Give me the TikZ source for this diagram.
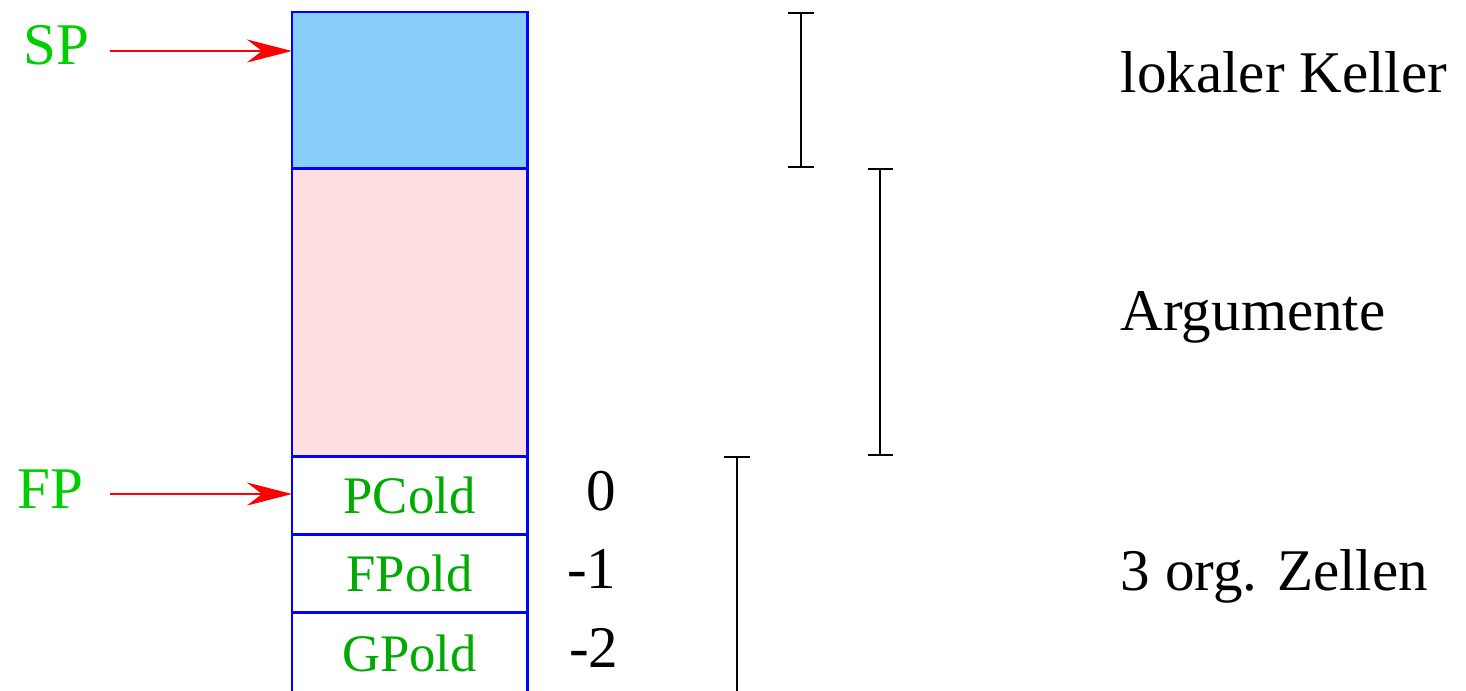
\documentclass[tikz,border=0pt]{standalone}
\usepackage{fontspec}
\setmainfont{Liberation Serif}
\usetikzlibrary{arrows.meta,positioning}
\definecolor{regreen}{RGB}{0,205,0}
\definecolor{cellgreen}{RGB}{0,170,0}
\definecolor{kellerblue}{RGB}{135,206,250}
\definecolor{argpink}{RGB}{255,224,226}

\begin{document}
\begin{tikzpicture}[x=0.01cm,y=-0.01cm,font=\fontsize{16.8}{20}\selectfont,
	cell/.style={draw=blue,line width=0.8pt,outer sep=0pt,inner sep=0pt,minimum width=2.35cm,
		text=cellgreen,font=\fontsize{15}{18}\selectfont},
	ptr/.style={draw=red,line width=0.7pt,-{Stealth[length=4.5mm,width=2.3mm,inset=1.5mm,red]}},
	span/.style={line width=0.7pt,{Bar[width=2.5mm]}-{Bar[width=2.5mm]}},
	reg/.style={text=regreen,inner sep=0pt,anchor=base west},
	lbl/.style={inner sep=0pt,anchor=base west}]
			\useasboundingbox (0,0) rectangle (1466,690);

			% stack cells
			\node[cell,fill=kellerblue,minimum height=1.56cm,anchor=north west] (keller) at (292,12) {};
			\node[cell,fill=argpink,minimum height=2.88cm,below=0pt of keller] (args) {};
			\node[cell,minimum height=0.78cm,below=0pt of args] (pcold) {PCold};
			\node[cell,minimum height=0.78cm,below=0pt of pcold] (fpold) {FPold};
			\node[cell,minimum height=0.82cm,below=0pt of fpold] (gpold) {GPold};

			% relative addresses
			\node[lbl,anchor=base east] (n0) at (617,510) {0};
			\node[lbl,anchor=base east] (n1) at (617,588) {-1};
			\node[lbl,anchor=base east] (n2) at (619,667) {-2};

			% registers
			\node[reg] (sp) at (23,64) {SP};
			\node[reg] (fp) at (17,508) {FP};
			\coordinate (spstart) at (110,51);
			\coordinate (fpstart) at (110,494);
			\draw[ptr] (spstart) -- (spstart -| keller.west);
			\draw[ptr] (fpstart) -- (fpstart -| pcold.west);

			% spans
			\coordinate (kt) at (801,12);
			\coordinate (kb) at (801,168);
			\coordinate (at) at (880,168);
			\coordinate (ab) at (880,456);
			\coordinate (zt) at (737,456);
			\coordinate (zb) at (737,700);
			\draw[span] (kt) -- (kb);
			\draw[span] (at) -- (ab);
			\draw[line width=0.7pt,{Bar[width=2.5mm]}-] (zt) -- (zb);

			\node[lbl] (lk) at (1120,92) {lokaler Keller};
			\node[lbl] (ar) at (1120,330) {Argumente};
			\node[lbl] (oz) at (1120,590) {3 org. Zellen};
\end{tikzpicture}
\end{document}
